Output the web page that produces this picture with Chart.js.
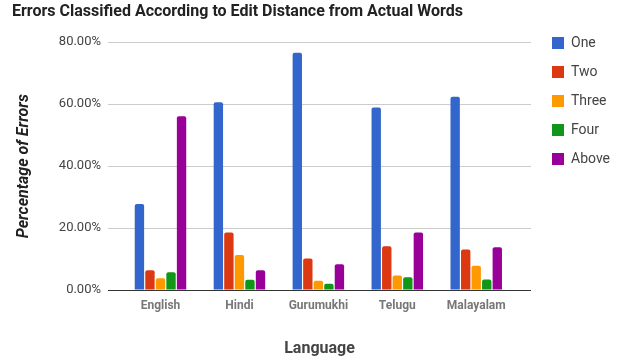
<!DOCTYPE html>
<html>
<head>
<meta charset="utf-8">
<script src="https://cdn.jsdelivr.net/npm/chart.js@4/dist/chart.umd.min.js"></script>
<style>
  html, body { margin: 0; padding: 0; background: #fff; }
  canvas { display: block; }
</style>
</head>
<body>
<canvas id="c" width="627" height="360"></canvas>
<script>
const categories = ['English', 'Hindi', 'Gurumukhi', 'Telugu', 'Malayalam'];
const seriesNames = ['One', 'Two', 'Three', 'Four', 'Above'];
const one   = [27.8, 60.6, 76.6, 58.9, 62.4];
const two   = [6.4, 18.6, 10.2, 14.1, 13.1];
const three = [3.8, 11.3, 3.0, 4.7, 7.8];
const four  = [5.7, 3.3, 2.0, 4.1, 3.4];
const above = [56.1, 6.4, 8.3, 18.6, 13.8];
const yTicks = [0, 20, 40, 60, 80];
const colors = ['#3366cc', '#dc3912', '#ff9900', '#109618', '#990099'];

const values = [one, two, three, four, above];
const F = 'Roboto, "Noto Sans", Arial, sans-serif';

new Chart(document.getElementById('c'), {
  type: 'bar',
  data: {
    labels: categories.map((_, i) => i),
    datasets: seriesNames.map((name, k) => ({
      label: name,
      data: values[k],
      backgroundColor: colors[k],
      borderColor: colors[k],
      borderWidth: 0,
      borderRadius: 2,
      categoryPercentage: 0.667,
      barPercentage: 0.89
    }))
  },
  options: {
    responsive: false,
    animation: false,
    layout: { padding: { left: 12, right: 7, top: 0, bottom: 0 } },
    plugins: {
      tooltip: { enabled: false },
      title: {
        display: true,
        text: 'Errors Classified According to Edit Distance from Actual Words',
        align: 'start',
        color: '#222',
        font: { family: F, size: 16, weight: 'bold' },
        padding: { top: 2, bottom: 21 }
      },
      legend: {
        position: 'right',
        align: 'start',
        fullSize: true,
        title: { display: true, text: ' ', font: { size: 10 }, padding: { top: 9, bottom: 0 } },
        labels: {
          boxWidth: 12,
          boxHeight: 12,
          padding: 15,
          color: '#444',
          font: { family: F, size: 14 }
        }
      }
    },
    scales: {
      x: {
        type: 'linear',
        offset: false,
        min: -0.665,
        max: 4.694,
        afterBuildTicks: s => { s.ticks = categories.map((_, i) => ({ value: i })); },
        afterFit: s => { s.height = 70; },
        grid: { display: false, offset: false },
        border: { display: false },
        ticks: {
          padding: 1,
          autoSkip: false,
          maxRotation: 0,
          color: '#777',
          font: { family: F, size: 12, weight: 'bold' },
          callback: v => categories[v] !== undefined ? categories[v] : ''
        },
        title: {
          display: true,
          text: 'Language',
          color: '#444',
          font: { family: F, size: 16, weight: 'bold' },
          padding: { top: 0, bottom: 1 }
        }
      },
      y: {
        min: 0,
        max: 80,
        afterBuildTicks: s => { s.ticks = yTicks.map(v => ({ value: v })); },
        afterFit: s => { s.width = 96; },
        grid: {
          drawTicks: false,
          color: c => c.tick && c.tick.value === 0 ? '#333' : '#ccc'
        },
        border: { display: false },
        ticks: {
          padding: 7,
          color: '#444',
          font: { family: F, size: 13 },
          callback: v => v.toFixed(2) + '%'
        },
        title: {
          display: true,
          text: 'Percentage of Errors',
          color: '#222',
          font: { family: F, size: 16, weight: 'bold', style: 'italic' },
          padding: { top: 2, bottom: 0 }
        }
      },
      yR: {
        type: 'linear',
        position: 'right',
        display: true,
        afterFit: s => { s.width = 6; },
        grid: { display: false },
        border: { display: false },
        ticks: { display: false }
      }
    }
  }
});
</script>
</body>
</html>
